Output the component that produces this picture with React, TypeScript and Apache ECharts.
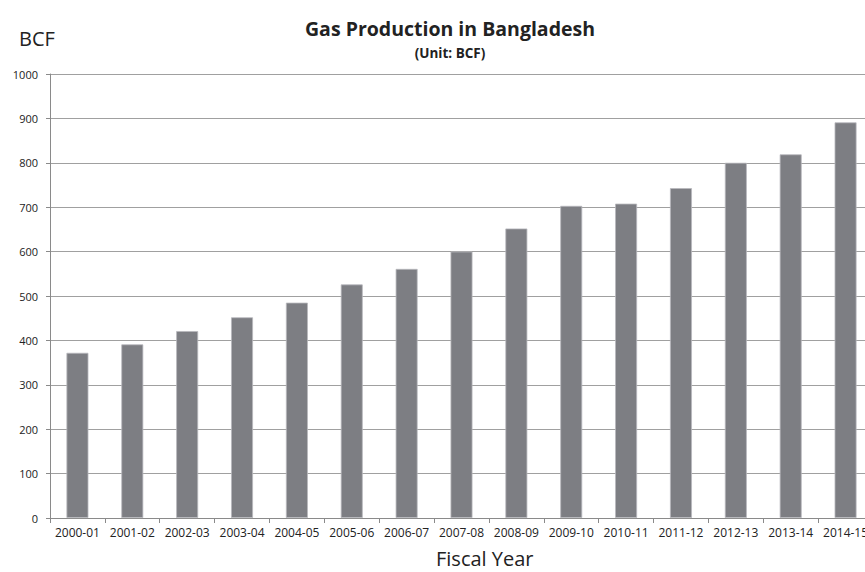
import React, { useEffect, useRef } from "react";
import * as echarts from "echarts";

const categories = [
  "2000-01", "2001-02", "2002-03", "2003-04", "2004-05", "2005-06", "2006-07", "2007-08",
  "2008-09", "2009-10", "2010-11", "2011-12", "2012-13", "2013-14", "2014-15",
];
const production = [372, 391, 421, 452, 485, 526, 561, 600, 652, 703, 708, 743, 800, 819, 891];
const yTicks = { min: 0, max: 1000, interval: 100 };
const titleText = "Gas Production in Bangladesh";
const subtitleText = "(Unit: BCF)";
const yName = "BCF";
const xName = "Fiscal Year";

const FONT = "'Open Sans', 'Liberation Sans', sans-serif";

export default function App() {
  const ref = useRef<HTMLDivElement>(null);
  useEffect(() => {
    document.body.style.margin = "0";
    document.body.style.overflow = "hidden";
    document.documentElement.style.overflow = "hidden";
    const chart = echarts.init(ref.current!, undefined, { renderer: "svg" });
    chart.setOption({
      animation: false,
      backgroundColor: "#ffffff",
      textStyle: { fontFamily: FONT },
      title: [
        {
          text: titleText,
          left: 445,
          top: 13,
          textAlign: "center",
          textStyle: { fontSize: 19.5, fontWeight: "bold", color: "#222", fontFamily: FONT },
        },
        {
          text: subtitleText,
          left: 445,
          top: 41,
          textAlign: "center",
          textStyle: { fontSize: 13.5, fontWeight: "bold", color: "#222", fontFamily: FONT },
        },
      ],
      graphic: [
        {
          type: "text",
          left: 19,
          top: 28,
          style: { text: yName, fontSize: 20, fill: "#222", fontFamily: FONT },
        },
        {
          type: "text",
          left: 436,
          top: 548,
          style: { text: xName, fontSize: 20, fill: "#222", fontFamily: FONT },
        },
      ],
      grid: { left: 50, right: 0, top: 74, bottom: 54, containLabel: false },
      xAxis: {
        type: "category",
        data: categories,
        axisLine: { show: true, lineStyle: { color: "#8a8a8a", width: 1 } },
        axisTick: { show: true, alignWithLabel: false, length: 5, lineStyle: { color: "#8a8a8a" } },
        axisLabel: { fontSize: 12, color: "#222", margin: 8, interval: 0, fontFamily: FONT },
      },
      yAxis: {
        type: "value",
        min: yTicks.min,
        max: yTicks.max,
        interval: yTicks.interval,
        axisLine: { show: true, lineStyle: { color: "#8a8a8a", width: 1 } },
        axisTick: { show: true, length: 4, lineStyle: { color: "#8a8a8a" } },
        axisLabel: {
          fontSize: 11,
          color: "#222",
          margin: 12,
          fontFamily: FONT,
          formatter: (v: number) => String(v),
        },
        splitLine: { show: true, lineStyle: { color: "#a0a0a0", width: 1 } },
      },
      series: [
        {
          type: "bar",
          data: production,
          barCategoryGap: "60%",
          itemStyle: { color: "#7d7e83", borderColor: "#b8b8bc", borderWidth: 0.8 },
        },
      ],
    });
    return () => chart.dispose();
  }, []);
  return <div ref={ref} style={{ width: 873, height: 572 }} />;
}
